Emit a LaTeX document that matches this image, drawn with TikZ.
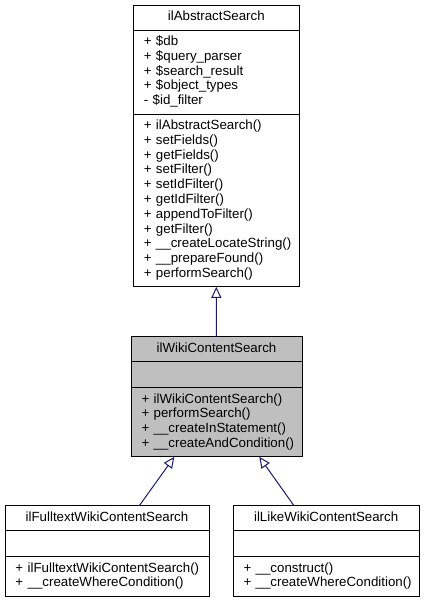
\documentclass[tikz,border=0pt]{standalone}
\usepackage{fontspec}
\setmainfont{Liberation Sans}
\usetikzlibrary{arrows.meta}
\definecolor{edgeblue}{HTML}{191970}
\definecolor{fillgray}{HTML}{BFBFBF}
\newcommand{\lnst}{\rule[-4.4pt]{0pt}{14.8pt}}
\newcommand{\mline}[1]{\mbox{\lnst #1}}
\tikzset{
  part/.style={draw=black, line width=1pt, anchor=north west, inner xsep=10.5pt, inner ysep=5pt,
    font=\fontsize{13.3}{14.8}\selectfont, outer sep=0pt},
  hdr/.style={part, align=center},
  mem/.style={part, align=left},
  gen/.style={draw=edgeblue, line width=1pt, -{Triangle[open, length=11pt, width=10pt]}},
}
\begin{document}
\begin{tikzpicture}[x=1pt,y=-1pt]
\useasboundingbox (0,0) rectangle (424,603);
% ilAbstractSearch
\node[hdr, text width=145pt, minimum height=25pt] (absH) at (133.3,5) {\mline{ilAbstractSearch}};
\node[mem, text width=145pt, minimum height=84pt] (absA) at (133.3,30) {\mline{+ \$db}\\\mline{+ \$query\_parser}\\\mline{+ \$search\_result}\\\mline{+ \$object\_types}\\\mline{- \$id\_filter}};
\node[mem, text width=145pt, minimum height=172.8pt] (absM) at (133.3,114) {\mline{+ ilAbstractSearch()}\\\mline{+ setFields()}\\\mline{+ getFields()}\\\mline{+ setFilter()}\\\mline{+ setIdFilter()}\\\mline{+ getIdFilter()}\\\mline{+ appendToFilter()}\\\mline{+ getFilter()}\\\mline{+ \_\_createLocateString()}\\\mline{+ \_\_prepareFound()}\\\mline{+ performSearch()}};
% ilWikiContentSearch
\node[hdr, fill=fillgray, text width=150pt, minimum height=25pt] (wcsH) at (131,336.7) {\mline{ilWikiContentSearch}};
\node[mem, fill=fillgray, text width=150pt, minimum height=26pt] (wcsA) at (131,361.7) {\lnst};
\node[mem, fill=fillgray, text width=150pt, minimum height=69.2pt] (wcsM) at (131,387.7) {\mline{+ ilWikiContentSearch()}\\\mline{+ performSearch()}\\\mline{+ \_\_createInStatement()}\\\mline{+ \_\_createAndCondition()}};
% ilFulltextWikiContentSearch
\node[hdr, text width=183pt, minimum height=25pt] (ftsH) at (5,505.7) {\mline{ilFulltextWikiContentSearch}};
\node[mem, text width=183pt, minimum height=26pt] (ftsA) at (5,530.7) {\lnst};
\node[mem, text width=183pt, minimum height=39.6pt] (ftsM) at (5,556.7) {\mline{+ ilFulltextWikiContentSearch()}\\\mline{+ \_\_createWhereCondition()}};
% ilLikeWikiContentSearch
\node[hdr, text width=165.3pt, minimum height=25pt] (lksH) at (233,505.7) {\mline{ilLikeWikiContentSearch}};
\node[mem, text width=165.3pt, minimum height=26pt] (lksA) at (233,530.7) {\lnst};
\node[mem, text width=165.3pt, minimum height=39.6pt] (lksM) at (233,556.7) {\mline{+ \_\_construct()}\\\mline{+ \_\_createWhereCondition()}};
% generalizations
\draw[gen] (wcsH.north) -- (absM.south);
\draw[gen] ([xshift=134.3pt]ftsH.north west) -- ([xshift=43.3pt]wcsM.south west);
\draw[gen] ([xshift=61pt]lksH.north west) -- ([xshift=128.3pt]wcsM.south west);
\end{tikzpicture}
\end{document}
